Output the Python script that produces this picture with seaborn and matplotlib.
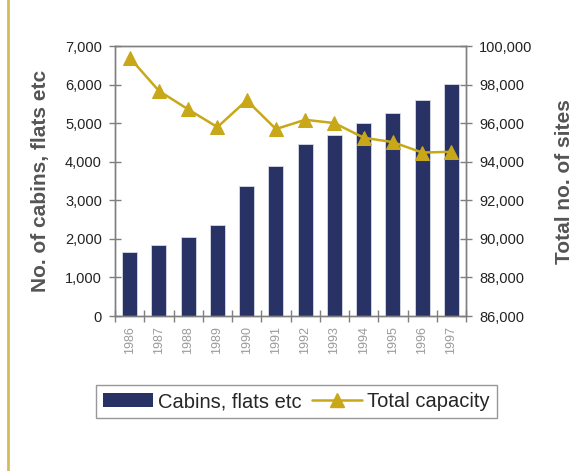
import matplotlib
matplotlib.use("Agg")
import matplotlib.pyplot as plt
from matplotlib.lines import Line2D
import seaborn as sns
import pandas as pd

years = ["1986", "1987", "1988", "1989", "1990", "1991",
         "1992", "1993", "1994", "1995", "1996", "1997"]
cabins = [1660, 1850, 2040, 2360, 3380, 3890, 4460, 4690, 5000, 5260, 5600, 6030]
total_sites = [99400, 97680, 96720, 95800, 97190, 95700,
               96180, 96010, 95250, 95020, 94480, 94520]

bar_label = "Cabins, flats etc"
line_label = "Total capacity"
left_ylabel = "No. of cabins, flats etc"
right_ylabel = "Total no. of sites"

navy = "#283264"
gold = "#C8A818"
axis_grey = "#7f7f7f"

sns.set_theme(style="white")
plt.rcParams["font.family"] = ["Liberation Sans", "DejaVu Sans"]

df = pd.DataFrame({"year": years, "cabins": cabins, "sites": total_sites})

fig = plt.figure(figsize=(5.87, 4.71), dpi=100)
ax = fig.add_axes([0.196, 0.329, 0.598, 0.573])

sns.barplot(data=df, x="year", y="cabins", color=navy, saturation=1,
            width=0.51, ax=ax, edgecolor="#d8dbe6", linewidth=0.6)
ax.set_ylim(0, 7000)
ax.set_xlim(-0.5, len(years) - 0.5)
ax.set_yticks(range(0, 7001, 1000))
ax.set_yticklabels([f"{v:,}" for v in range(0, 7001, 1000)])

ax2 = ax.twinx()
x_pos = list(range(len(years)))
sns.lineplot(x=x_pos, y=df["sites"], ax=ax2, color=gold, linewidth=1.8,
             marker="^", markersize=9.5, markeredgecolor=gold, legend=False)
ax2.set_ylim(86000, 100000)
ax2.set_yticks(range(86000, 100001, 2000))
ax2.set_yticklabels([f"{v:,}" for v in range(86000, 100001, 2000)])
ax2.set_xlim(-0.5, len(years) - 0.5)

# category tick marks sit on the boundaries between bars
ax.set_xticks([i - 0.5 for i in range(len(years) + 1)], minor=False)
ax.set_xticklabels([])
ax.set_xticks(x_pos, minor=True)
ax.set_xticklabels(years, minor=True, rotation=90, fontsize=9, color="#9a9a9a")
ax.tick_params(axis="x", which="minor", length=0, pad=7)
ax.tick_params(axis="x", which="major", direction="inout", length=9,
               width=1, color=axis_grey, bottom=True)
ax.tick_params(axis="y", direction="inout", length=9, width=1, pad=5,
               color=axis_grey, labelsize=10.5, labelcolor="#222222", left=True)
ax2.tick_params(axis="y", direction="inout", length=9, width=1, pad=5,
                color=axis_grey, labelsize=10.5, labelcolor="#222222", right=True)

for a in (ax, ax2):
    for s in a.spines.values():
        s.set_visible(True)
        s.set_color(axis_grey)
        s.set_linewidth(1.0)

ax.set_xlabel("")
ax.set_ylabel(left_ylabel, fontsize=15, fontweight="bold", color="#555555")
ax.yaxis.set_label_coords(-0.185, 0.5)
ax2.set_ylabel(right_ylabel, fontsize=15, fontweight="bold", color="#555555")
ax2.yaxis.set_label_coords(1.252, 0.5)

handles = [
    plt.Rectangle((0, 0), 1, 1, facecolor=navy, edgecolor="none"),
    Line2D([0], [0], color=gold, linewidth=1.8, marker="^", markersize=9.5),
]
leg = fig.legend(handles, [bar_label, line_label], ncol=2, loc="center",
                 bbox_to_anchor=(0.505, 0.147), fontsize=14.5, frameon=True,
                 fancybox=False, edgecolor="#7f7f7f", handlelength=2.5,
                 handletextpad=0.25, columnspacing=0.5, borderpad=0.35)
leg.get_frame().set_linewidth(1.0)

# thin gold rule along the left edge of the page
fig.add_artist(Line2D([0.0128, 0.0128], [0, 1], color="#D4BC5C", linewidth=2,
                      transform=fig.transFigure))

fig.savefig("out.png", dpi=100)
